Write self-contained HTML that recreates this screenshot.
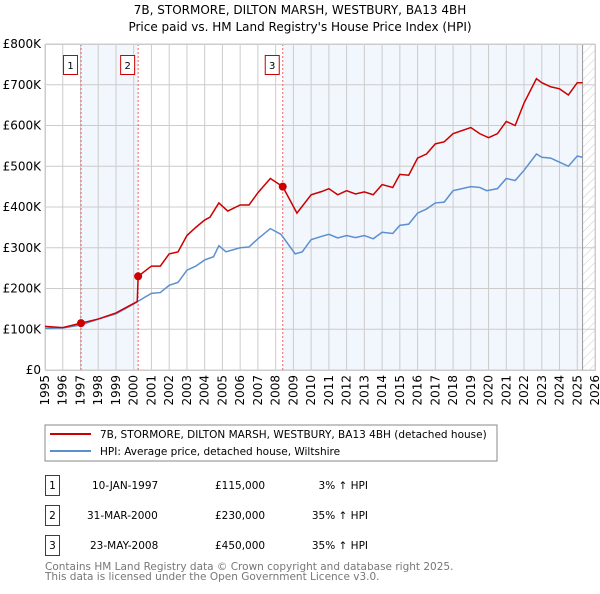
<!DOCTYPE html>
<html><head><meta charset="utf-8"><style>
body{margin:0;background:#fff;width:600px;height:590px;overflow:hidden;font-family:"DejaVu Sans","Liberation Sans",sans-serif}
svg text{font-family:"DejaVu Sans","Liberation Sans",sans-serif}
</style></head><body>
<svg id="chart" width="600" height="590" viewBox="0 0 600 590" xmlns="http://www.w3.org/2000/svg">
<defs><pattern id="hatch" width="6" height="6" patternUnits="userSpaceOnUse" patternTransform="rotate(45)"><line x1="0" y1="0" x2="0" y2="6" stroke="#ccc" stroke-width="1"/></pattern></defs>
<text x="300" y="14" text-anchor="middle" font-size="12">7B, STORMORE, DILTON MARSH, WESTBURY, BA13 4BH</text>
<text x="300" y="31" text-anchor="middle" font-size="12">Price paid vs. HM Land Registry's House Price Index (HPI)</text>
<g id="plot"></g>
<g>
<rect x="45" y="425" width="452" height="36" fill="#fff" stroke="#888"/>
<line x1="50" y1="434" x2="91" y2="434" stroke="#cc0000" stroke-width="2"/>
<text x="100" y="438" font-size="10.5">7B, STORMORE, DILTON MARSH, WESTBURY, BA13 4BH (detached house)</text>
<line x1="50" y1="451" x2="91" y2="451" stroke="#5b8fd0" stroke-width="2"/>
<text x="100" y="455" font-size="10.5">HPI: Average price, detached house, Wiltshire</text>
</g>
<g font-size="10.5">
<rect x="45.5" y="475.5" width="14" height="20" fill="none" stroke="#cc0000"/><text x="52.5" y="489" text-anchor="middle">1</text>
<text x="92" y="489">10-JAN-1997</text><text x="215" y="489">£115,000</text><text x="368" y="489" text-anchor="end">3% ↑ HPI</text>
<rect x="45.5" y="505.5" width="14" height="20" fill="none" stroke="#cc0000"/><text x="52.5" y="519" text-anchor="middle">2</text>
<text x="87" y="519">31-MAR-2000</text><text x="215" y="519">£230,000</text><text x="368" y="519" text-anchor="end">35% ↑ HPI</text>
<rect x="45.5" y="535.5" width="14" height="20" fill="none" stroke="#cc0000"/><text x="52.5" y="549" text-anchor="middle">3</text>
<text x="90" y="549">23-MAY-2008</text><text x="215" y="549">£450,000</text><text x="368" y="549" text-anchor="end">35% ↑ HPI</text>
</g>
<text x="45" y="570" font-size="10.5" fill="#777">Contains HM Land Registry data © Crown copyright and database right 2025.</text>
<text x="45" y="580" font-size="10.5" fill="#777">This data is licensed under the Open Government Licence v3.0.</text>
</svg>
<script>
const yearTicks=[1995,1996,1997,1998,1999,2000,2001,2002,2003,2004,2005,2006,2007,2008,2009,2010,2011,2012,2013,2014,2015,2016,2017,2018,2019,2020,2021,2022,2023,2024,2025,2026];
const valueTicks=[0,100,200,300,400,500,600,700,800];
const valueLabels=["£0","£100K","£200K","£300K","£400K","£500K","£600K","£700K","£800K"];
const hpiYears=[1995,1996,1997,1998,1999,2000,2000.6,2001,2001.5,2002,2002.5,2003,2003.5,2004,2004.5,2004.8,2005.2,2006,2006.5,2007,2007.7,2008.3,2009.1,2009.5,2010,2010.6,2011,2011.5,2012,2012.5,2013,2013.5,2014,2014.6,2015,2015.5,2016,2016.5,2017,2017.5,2018,2019,2019.5,2019.9,2020.5,2021,2021.5,2022,2022.7,2023,2023.5,2024,2024.5,2025,2025.3];
const hpiValues=[102,103,110,125,138,162,178,188,190,208,215,245,255,270,278,305,290,300,302,322,347,333,285,290,320,328,333,324,330,325,330,322,338,335,355,358,385,395,410,412,440,450,448,440,445,470,465,490,530,522,520,510,500,525,522];
const priceYears=[1995,1996,1997.03,1998,1999,2000.2,2000.25,2001,2001.5,2002,2002.5,2003,2003.5,2004,2004.3,2004.8,2005.3,2006,2006.5,2007,2007.7,2008.4,2009.2,2010,2010.6,2011,2011.5,2012,2012.5,2013,2013.5,2014,2014.6,2015,2015.5,2016,2016.5,2017,2017.5,2018,2019,2019.5,2020,2020.5,2021,2021.5,2022,2022.7,2023,2023.5,2024,2024.5,2025,2025.3];
const priceValues=[107,104,115,125,140,168,230,255,255,285,290,330,350,368,375,410,390,405,405,435,470,450,385,430,438,445,430,440,432,437,430,455,448,480,478,520,530,555,560,580,595,580,570,580,610,600,655,715,705,695,690,675,705,705];
const saleYears=[1997.03,2000.25,2008.4];
const saleValues=[115,230,450];
const saleLabels=["1","2","3"];
const NS="http://www.w3.org/2000/svg";
const L=45,R=595,T=44,B=370;
const xs=y=>L+(y-1995)/31*(R-L);
const ys=v=>B-v/800*(B-T);
const g=document.getElementById('plot');
function mk(tag,attrs,parent){const e=document.createElementNS(NS,tag);for(const k in attrs)e.setAttribute(k,attrs[k]);(parent||g).appendChild(e);return e;}
let e;
e=mk('rect',{x:xs(1997.03),y:T,width:xs(2000.25)-xs(1997.03),height:B-T,fill:'#f2f6fd'});


e=mk('rect',{x:xs(2008.4),y:T,width:xs(2025.3)-xs(2008.4),height:B-T,fill:'#f2f6fd'});


e=mk('rect',{x:xs(2025.3),y:T,width:R-xs(2025.3),height:B-T,fill:'url(#hatch)'});


yearTicks.forEach(y=>{
 e=mk('line',{x1:xs(y),x2:xs(y),y1:T,y2:B,stroke:'#ccc','stroke-width':1});
 
 
 e=mk('text',{x:0,y:0,'font-size':12,'text-anchor':'end',transform:`translate(${xs(y)+4},${B+5}) rotate(-90)`});
 e.textContent=y;
 
 
});
valueTicks.forEach((v,i)=>{
 e=mk('line',{x1:L,x2:R,y1:ys(v),y2:ys(v),stroke:'#ccc','stroke-width':1});
 
 
 e=mk('text',{x:L-4,y:ys(v)+4,'font-size':12,'text-anchor':'end'});
 e.textContent=valueLabels[i];
 
 
});
e=mk('line',{x1:xs(2025.3),x2:xs(2025.3),y1:T,y2:B,stroke:'#999','stroke-width':1});


saleYears.forEach((y,i)=>{
 e=mk('line',{x1:xs(y),x2:xs(y),y1:T,y2:B,stroke:'#f06060','stroke-width':1,'stroke-dasharray':'2,2'});
 
 
 e=mk('rect',{x:xs(y)-17.5,y:55.5,width:14,height:19,fill:'#fff',stroke:'#cc0000'});
 
 
 e=mk('text',{x:xs(y)-10.5,y:69,'font-size':10,'text-anchor':'middle'});
 e.textContent=saleLabels[i];
 
 
});
e=mk('rect',{x:L+.5,y:T+.5,width:R-L,height:B-T,fill:'none',stroke:'#ccc'});


e=mk('polyline',{points:hpiYears.map((y,i)=>xs(y)+','+ys(hpiValues[i])).join(' '),fill:'none',stroke:'#5b8fd0','stroke-width':1.5});


e=mk('polyline',{points:priceYears.map((y,i)=>xs(y)+','+ys(priceValues[i])).join(' '),fill:'none',stroke:'#cc0000','stroke-width':1.5});


saleYears.forEach((y,i)=>{
 e=mk('circle',{cx:xs(y),cy:ys(saleValues[i]),r:4,fill:'#cc0000'});
 
 
});
</script>
</body></html>
